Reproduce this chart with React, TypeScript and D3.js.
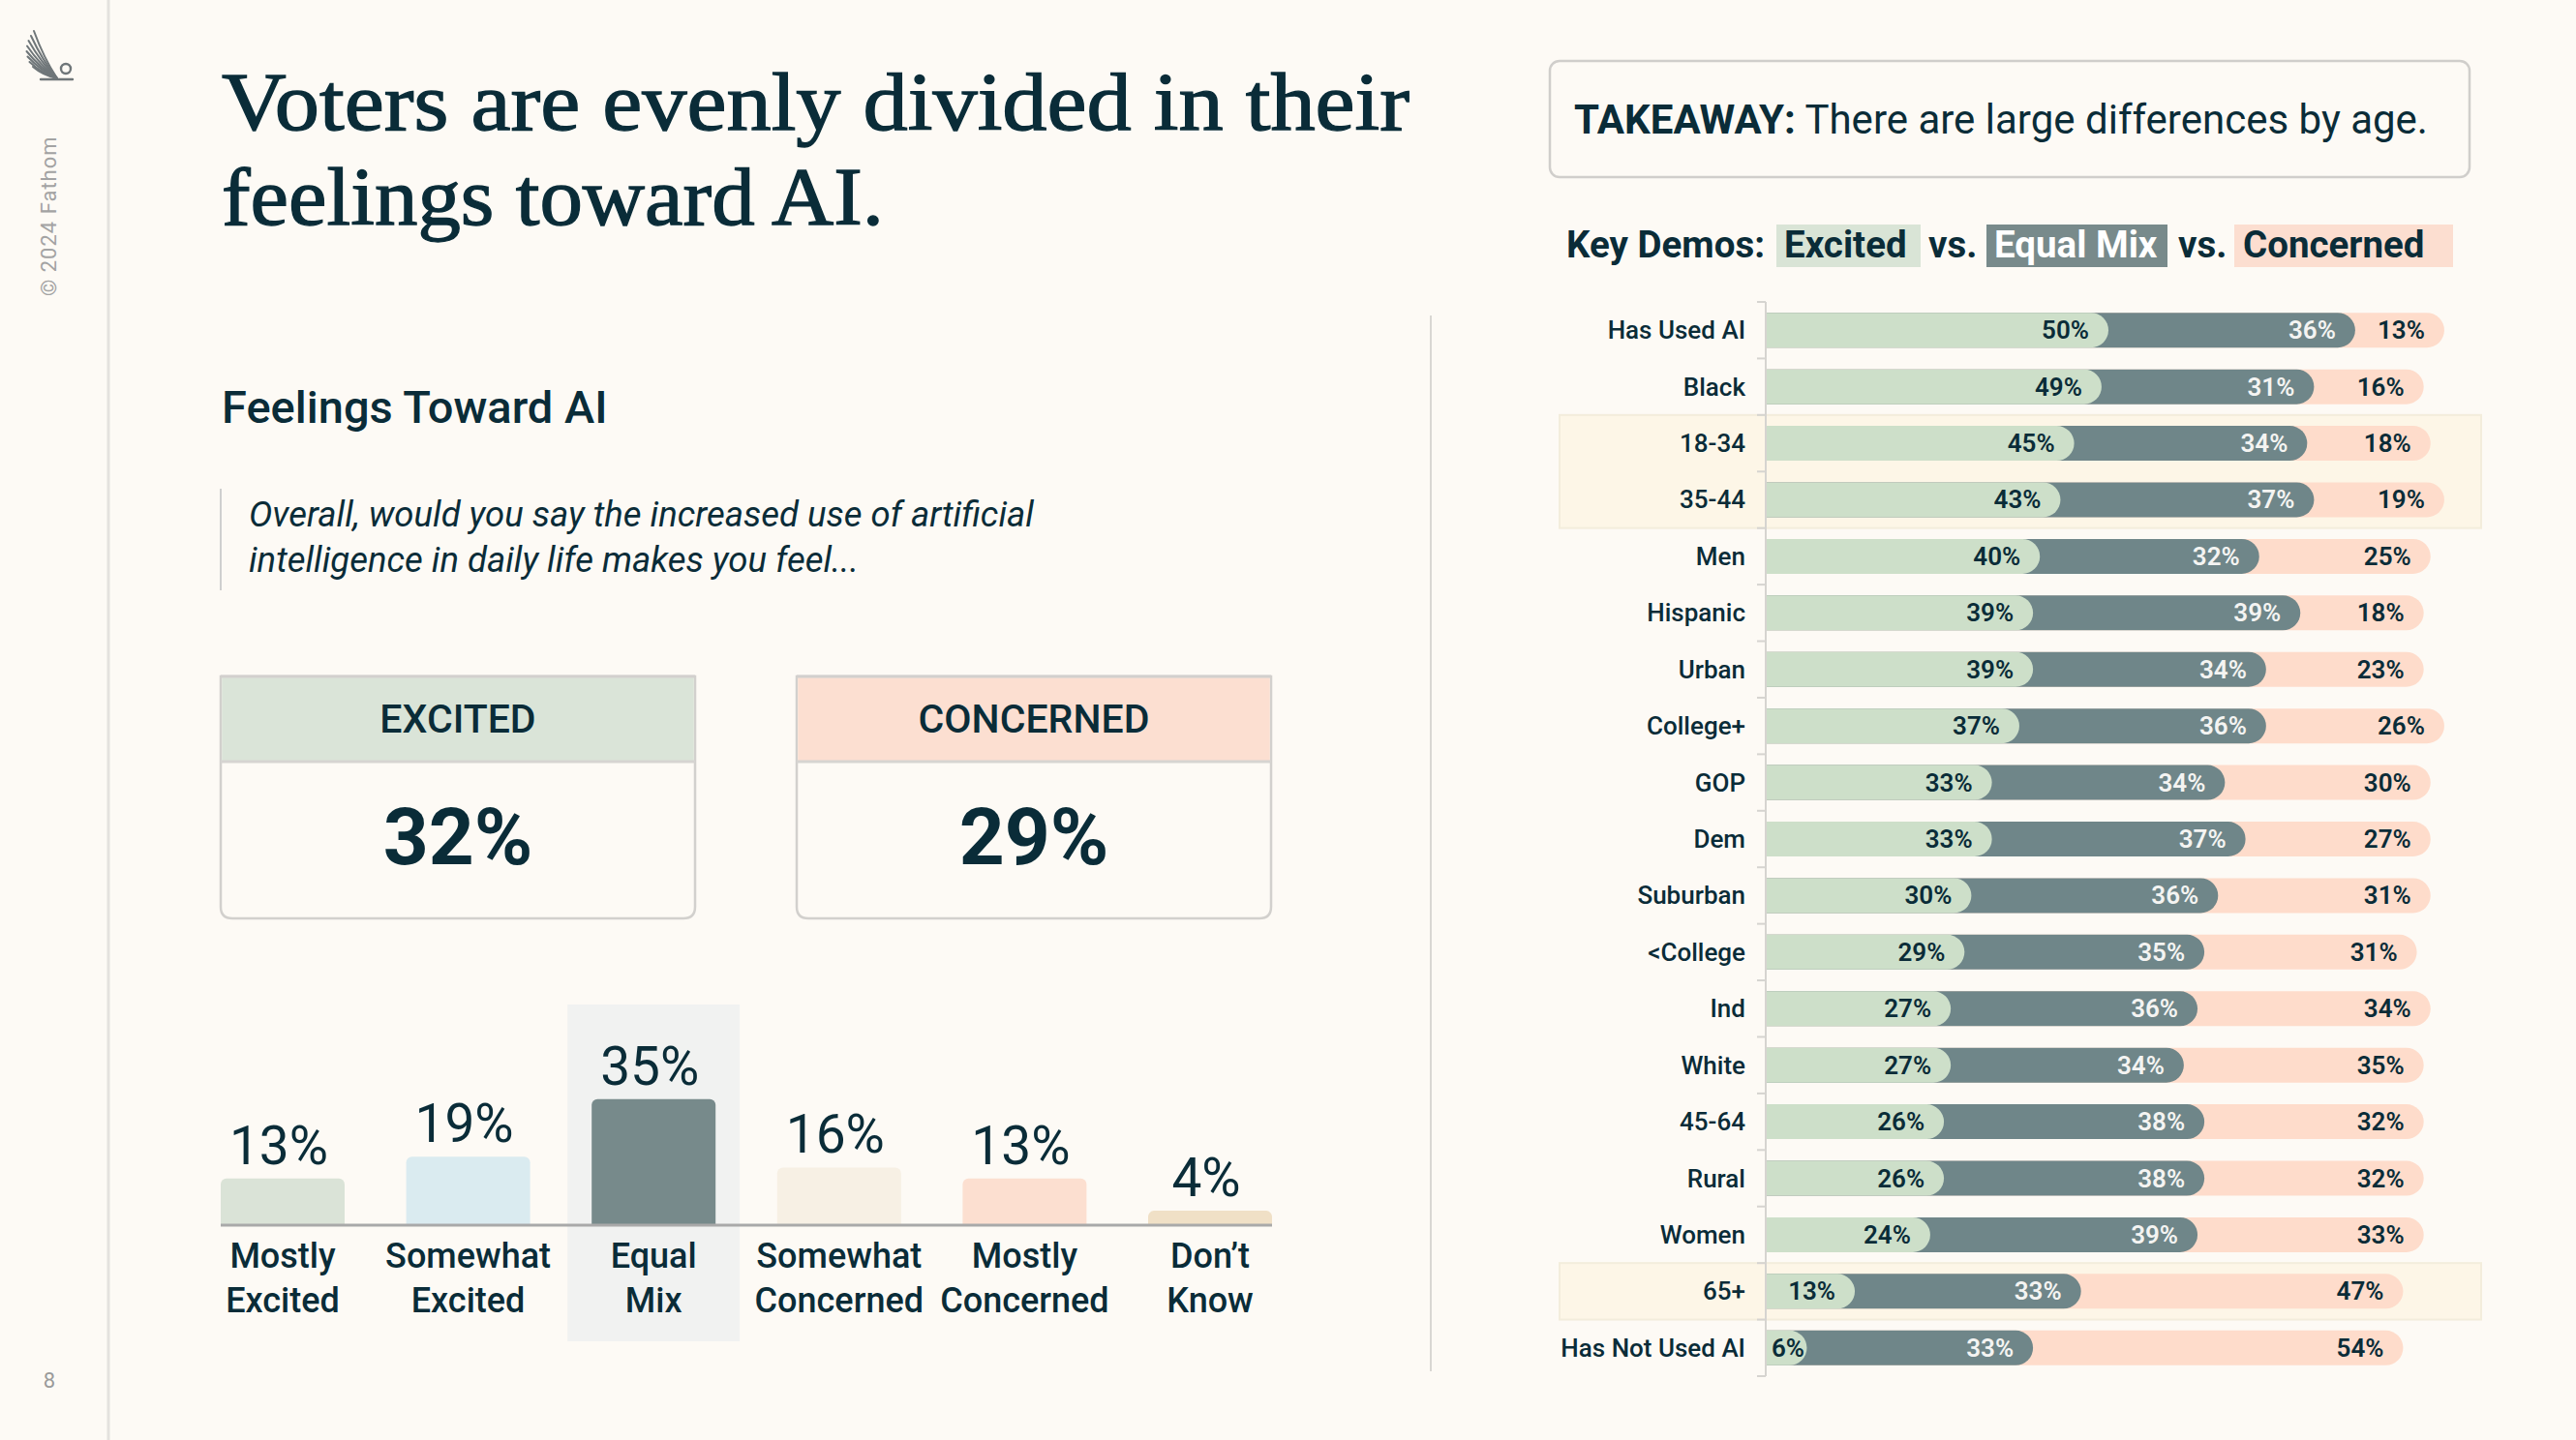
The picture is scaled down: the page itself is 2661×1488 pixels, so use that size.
import React from 'react';
import * as d3 from 'd3';

const W = 2661;
const H = 1488;

// ---------- DATA ----------
const demoCategories = [
  'Has Used AI', 'Black', '18-34', '35-44', 'Men', 'Hispanic', 'Urban', 'College+', 'GOP', 'Dem',
  'Suburban', '<College', 'Ind', 'White', '45-64', 'Rural', 'Women', '65+', 'Has Not Used AI',
];
const excitedShare = [50, 49, 45, 43, 40, 39, 39, 37, 33, 33, 30, 29, 27, 27, 26, 26, 24, 13, 6];
const equalMixShare = [36, 31, 34, 37, 32, 39, 34, 36, 34, 37, 36, 35, 36, 34, 38, 38, 39, 33, 33];
const concernedShare = [13, 16, 18, 19, 25, 18, 23, 26, 30, 27, 31, 31, 34, 35, 32, 32, 33, 47, 54];
const highlightedDemos = ['18-34', '35-44', '65+'];

const feelingCategories = ['Mostly Excited', 'Somewhat Excited', 'Equal Mix', 'Somewhat Concerned', 'Mostly Concerned', 'Don’t Know'];
const feelingLabelLines = [['Mostly', 'Excited'], ['Somewhat', 'Excited'], ['Equal', 'Mix'], ['Somewhat', 'Concerned'], ['Mostly', 'Concerned'], ['Don’t', 'Know']];
const feelingValues = [13, 19, 35, 16, 13, 4];
const feelingColors = ['#DAE3D7', '#DAEBF0', '#778A8B', '#F7F0E4', '#FCDFD0', '#F0E0C6'];

const summaryLabels = ['EXCITED', 'CONCERNED'];
const summaryValues = [32, 29];
const summaryColors = ['#DAE4D8', '#FCDFD1'];

// ---------- STYLE ----------
const BG = '#FDFAF5';
const INK = '#0A2C38';
const SANS = 'Roboto, "Noto Sans", sans-serif';
const SERIF = '"Liberation Serif", "DejaVu Serif", serif';
const C_EXC = '#CDDFC9';
const C_MIX = '#6F8689';
const C_CON = '#FEDCCB';

function rightRounded(x0: number, x1: number, y: number, h: number, r: number) {
  const w = x1 - x0;
  const rr = Math.max(0, Math.min(r, w, h / 2));
  const p = d3.path();
  p.moveTo(x0, y);
  p.lineTo(x1 - rr, y);
  p.arcTo(x1, y, x1, y + rr, rr);
  p.lineTo(x1, y + h - rr);
  p.arcTo(x1, y + h, x1 - rr, y + h, rr);
  p.lineTo(x0, y + h);
  p.closePath();
  return p.toString();
}

function topRounded(x: number, y: number, w: number, h: number, r: number) {
  const rr = Math.max(0, Math.min(r, w / 2, h));
  const p = d3.path();
  p.moveTo(x, y + h);
  p.lineTo(x, y + rr);
  p.arcTo(x, y, x + rr, y, rr);
  p.lineTo(x + w - rr, y);
  p.arcTo(x + w, y, x + w, y + rr, rr);
  p.lineTo(x + w, y + h);
  p.closePath();
  return p.toString();
}

function Logo() {
  const base: [number, number] = [59, 81];
  const tips: [number, number][] = [
    [35, 32], [32, 37], [29.5, 42], [28, 47.5], [27.5, 53], [28.5, 58.5], [30.5, 64], [34, 69],
  ];
  return (
    <g stroke="#6F7679" strokeWidth={2} fill="none" strokeLinecap="round">
      {tips.map((t, i) => (
        <path key={i} d={`M${t[0]},${t[1]} Q${(t[0] + base[0]) / 2 - 2},${(t[1] + base[1]) / 2 + 3} ${base[0]},${base[1]}`} />
      ))}
      <line x1={42} y1={82} x2={75} y2={82} strokeWidth={2.4} />
      <circle cx={68} cy={71} r={5} strokeWidth={2.4} />
    </g>
  );
}

export default function App() {
  // ---- stacked bar scales ----
  const axisX = 1824;
  const xStack = d3.scaleLinear().domain([0, 100]).range([axisX, axisX + 708]);
  const yStack = d3.scaleBand<string>().domain(demoCategories).range([312, 1422]).paddingInner(0.384).paddingOuter(0.192);
  const bh = yStack.bandwidth();
  const step = yStack.step();
  const rows = demoCategories.map((c, i) => ({
    cat: c,
    e: excitedShare[i],
    m: equalMixShare[i],
    k: concernedShare[i],
  }));

  // group consecutive highlighted rows
  const groups: { start: number; end: number }[] = [];
  demoCategories.forEach((c, i) => {
    if (!highlightedDemos.includes(c)) return;
    const last = groups[groups.length - 1];
    if (last && last.end === i - 1) last.end = i;
    else groups.push({ start: i, end: i });
  });
  const bandTop = (i: number) => 312 + i * step;

  // ---- bottom bar chart scales ----
  const xBar = d3.scaleBand<string>().domain(feelingCategories).range([228, 1314]).paddingInner(0.332).paddingOuter(0);
  const yBar = d3.scaleLinear().domain([0, 100]).range([1266, 1266 - 372]);
  const bw = xBar.bandwidth();
  const eqX = (xBar('Equal Mix') as number);

  const labelFor = (v: number, x0: number, x1: number, fill: string, y: number, key: string) => {
    const small = x1 - x0 < 60;
    return (
      <text
        key={key}
        x={small ? x0 + 6 : x1 - 20}
        y={y}
        textAnchor={small ? 'start' : 'end'}
        fontFamily={SANS}
        fontWeight={600}
        fontSize={26}
        fill={fill}
        dominantBaseline="central"
      >
        {v}%
      </text>
    );
  };

  return (
    <svg width={W} height={H} viewBox={`0 0 ${W} ${H}`} style={{ position: 'absolute', left: 0, top: 0, display: 'block' }}>
      <rect x={0} y={0} width={W} height={H} fill={BG} />

      {/* sidebar */}
      <line x1={112} y1={0} x2={112} y2={H} stroke="#E4E2DE" strokeWidth={3} />
      <Logo />
      <text transform="translate(58,306) rotate(-90)" fontFamily={SANS} fontSize={22} fill="#A3A3A3" letterSpacing={1}>
        © 2024 Fathom
      </text>
      <text x={51} y={1434} textAnchor="middle" fontFamily={SANS} fontSize={22} fill="#9A9A9A">8</text>

      {/* title */}
      <g fill={INK} stroke={INK} strokeWidth={1.3}>
        <text x={229} y={134} fontFamily={SERIF} fontSize={85} textLength={1227} lengthAdjust="spacingAndGlyphs">
          Voters are evenly divided in their
        </text>
        <text x={229} y={232} fontFamily={SERIF} fontSize={85} textLength={684} lengthAdjust="spacingAndGlyphs">
          feelings toward AI.
        </text>
      </g>

      {/* subtitle */}
      <text x={229} y={437} fontFamily={SANS} fontSize={47} fontWeight={500} fill={INK}>Feelings Toward AI</text>
      <line x1={228} y1={505} x2={228} y2={610} stroke="#CFCFCF" strokeWidth={2} />
      <text fontFamily={SANS} fontStyle="italic" fontSize={36.5} fill={INK}>
        <tspan x={257} y={544}>Overall, would you say the increased use of artificial</tspan>
        <tspan x={257} y={591}>intelligence in daily life makes you feel...</tspan>
      </text>

      {/* summary boxes */}
      {summaryLabels.map((lab, i) => {
        const x = 228 + i * 595;
        const w = 490;
        const top = 699;
        const bottom = 949;
        const head = 787;
        const r = 12;
        const cx = x + w / 2;
        return (
          <g key={lab}>
            <path
              d={`M${x},${top} H${x + w} V${bottom - r} Q${x + w},${bottom} ${x + w - r},${bottom} H${x + r} Q${x},${bottom} ${x},${bottom - r} Z`}
              fill={BG}
              stroke="#D2D0CD"
              strokeWidth={2.5}
            />
            <rect x={x + 1.25} y={top + 1.25} width={w - 2.5} height={head - top - 1.25} fill={summaryColors[i]} />
            <line x1={x} y1={top} x2={x + w} y2={top} stroke="#D2D0CD" strokeWidth={3} />
            <line x1={x} y1={head} x2={x + w} y2={head} stroke="#D6D4D1" strokeWidth={3} />
            <text x={cx} y={757} textAnchor="middle" fontFamily={SANS} fontSize={41} fontWeight={500} fill={INK}>{lab}</text>
            <text x={cx} y={893} textAnchor="middle" fontFamily={SANS} fontSize={82} fontWeight={700} fill={INK}>{summaryValues[i]}%</text>
          </g>
        );
      })}

      {/* bottom bar chart */}
      <rect x={eqX - 25} y={1038} width={bw + 50} height={348} fill="#F1F2F1" />
      {feelingCategories.map((c, i) => {
        const x = xBar(c) as number;
        const y = yBar(feelingValues[i]);
        const cx = x + bw / 2;
        return (
          <g key={c}>
            <path d={topRounded(x, y, bw, yBar(0) - y, 6)} fill={feelingColors[i]} />
            <text x={cx - 4} y={y - 15} textAnchor="middle" fontFamily={SANS} fontSize={55} fill={INK}>{feelingValues[i]}%</text>
            <text x={cx} y={1310} textAnchor="middle" fontFamily={SANS} fontSize={36} fontWeight={500} fill={INK}>{feelingLabelLines[i][0]}</text>
            <text x={cx} y={1356} textAnchor="middle" fontFamily={SANS} fontSize={36} fontWeight={500} fill={INK}>{feelingLabelLines[i][1]}</text>
          </g>
        );
      })}
      <line x1={228} y1={1266} x2={1314} y2={1266} stroke="#A9A9A9" strokeWidth={3} />

      {/* divider */}
      <line x1={1478} y1={326} x2={1478} y2={1417} stroke="#D9D7D3" strokeWidth={2} />

      {/* takeaway */}
      <rect x={1601} y={63} width={950} height={120} rx={10} fill={BG} stroke="#D0CECB" strokeWidth={2.5} />
      <text x={1626} y={138} fontFamily={SANS} fontSize={42} fill={INK}>
        <tspan fontWeight={700}>TAKEAWAY:</tspan>
        <tspan> There are large differences by age.</tspan>
      </text>

      {/* key demos legend */}
      <rect x={1835} y={232} width={149} height={44} fill="#D9E4D6" />
      <rect x={2052} y={232} width={187} height={44} fill="#788A8B" />
      <rect x={2308} y={232} width={226} height={44} fill="#FCDED0" />
      <text y={266} fontFamily={SANS} fontSize={38.5} fontWeight={700} fill={INK}>
        <tspan x={1618}>Key Demos:</tspan>
        <tspan x={1843}>Excited</tspan>
        <tspan x={1992}>vs.</tspan>
        <tspan x={2060} fill="#FFFFFF">Equal Mix</tspan>
        <tspan x={2250}>vs.</tspan>
        <tspan x={2317}>Concerned</tspan>
      </text>

      {/* highlighted rows */}
      {groups.map((g, i) => (
        <rect
          key={i}
          x={1611}
          y={bandTop(g.start)}
          width={952}
          height={(g.end - g.start + 1) * step}
          fill="#FDF6E7"
          stroke="#F3EDDC"
          strokeWidth={2}
        />
      ))}

      {/* stacked bars */}
      {rows.map((r) => {
        const y = yStack(r.cat) as number;
        const cy = y + bh / 2;
        const x0 = xStack(0);
        const xE = xStack(r.e);
        const xM = xStack(r.e + r.m);
        const xK = xStack(r.e + r.m + r.k);
        return (
          <g key={r.cat}>
            <path d={rightRounded(x0, xK, y, bh, bh / 2)} fill={C_CON} />
            <path d={rightRounded(x0, xM, y, bh, bh / 2)} fill={C_MIX} />
            <path d={rightRounded(x0, xE, y, bh, bh / 2)} fill={C_EXC} />
            {labelFor(r.e, x0, xE, INK, cy, 'e')}
            {labelFor(r.m, xE, xM, '#F4F4F2', cy, 'm')}
            {labelFor(r.k, xM, xK, INK, cy, 'k')}
            <text x={1803} y={cy} textAnchor="end" dominantBaseline="central" fontFamily={SANS} fontSize={26} fontWeight={500} fill={INK}>
              {r.cat}
            </text>
          </g>
        );
      })}

      {/* axis */}
      <line x1={axisX} y1={312} x2={axisX} y2={1422} stroke="#D6D4D0" strokeWidth={2} />
      {d3.range(demoCategories.length + 1).map((i) => (
        <line key={i} x1={axisX - 9} x2={axisX} y1={bandTop(i)} y2={bandTop(i)} stroke="#D6D4D0" strokeWidth={2} />
      ))}
    </svg>
  );
}
